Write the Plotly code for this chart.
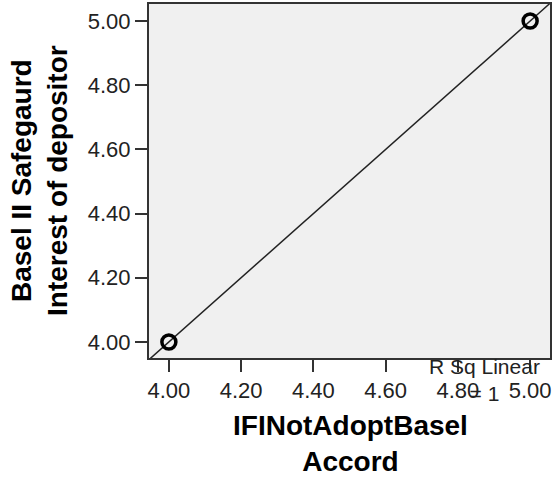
import numpy as np
import plotly.graph_objects as go

# Data
x_vals = [4.0, 5.0]
y_vals = [4.0, 5.0]
tick_vals = [4.0, 4.2, 4.4, 4.6, 4.8, 5.0]
tick_text = ["4.00", "4.20", "4.40", "4.60", "4.80", "5.00"]
x_title = "<b>IFINotAdoptBasel<br>Accord</b>"
y_title = "<b>Basel II Safegaurd<br>Interest of depositor</b>"
r_sq_text = "R Sq Linear<br>= 1"

W, H = 552, 479
L, R, T, B = 149, 2, 4, 121
pw, ph = W - L - R, H - T - B

x_range = [3.945, 5.055]
y_range = [3.95, 5.053]

slope, intercept = np.polyfit(x_vals, y_vals, 1)
fx = np.array(x_range)
fy = slope * fx + intercept

def px(xp):
    return (xp - L) / pw

def py(yp):
    return (T + ph - yp) / ph

FONT = "Liberation Sans, Arial, sans-serif"

fig = go.Figure()
fig.add_trace(go.Scatter(x=fx, y=fy, mode="lines",
                         line=dict(color="#222222", width=1.5),
                         hoverinfo="skip", showlegend=False))
fig.add_trace(go.Scatter(x=x_vals, y=y_vals, mode="markers",
                         marker=dict(symbol="circle-open", size=14, color="black",
                                     line=dict(color="black", width=3.5)),
                         showlegend=False))

axis_common = dict(
    tickvals=tick_vals, ticktext=tick_text,
    ticks="outside", ticklen=12, tickwidth=2, tickcolor="#333333",
    showline=True, linecolor="#333333", linewidth=2, mirror=True,
    showgrid=False, zeroline=False,
    tickfont=dict(family=FONT, size=22, color="#222222"),
)
fig.update_xaxes(range=x_range, **axis_common)
fig.update_yaxes(range=y_range, **axis_common)

fig.add_annotation(text=x_title, xref="paper", yref="paper",
                   x=px(350), y=py(443), showarrow=False,
                   xanchor="center", yanchor="middle", align="center",
                   font=dict(family=FONT, size=28, color="black"))
fig.add_annotation(text=y_title, xref="paper", yref="paper",
                   x=px(39), y=py(181), showarrow=False, textangle=-90,
                   xanchor="center", yanchor="middle", align="center",
                   font=dict(family=FONT, size=28, color="black"))
fig.add_annotation(text=r_sq_text, xref="paper", yref="paper",
                   x=px(484), y=py(380), showarrow=False,
                   xanchor="center", yanchor="middle", align="center",
                   font=dict(family=FONT, size=21, color="#222222"))

fig.update_layout(
    width=W, height=H,
    margin=dict(l=L, r=R, t=T, b=B, autoexpand=False),
    paper_bgcolor="white", plot_bgcolor="#f0f0f0",
    font=dict(family=FONT),
)
fig.write_html("out.html")
